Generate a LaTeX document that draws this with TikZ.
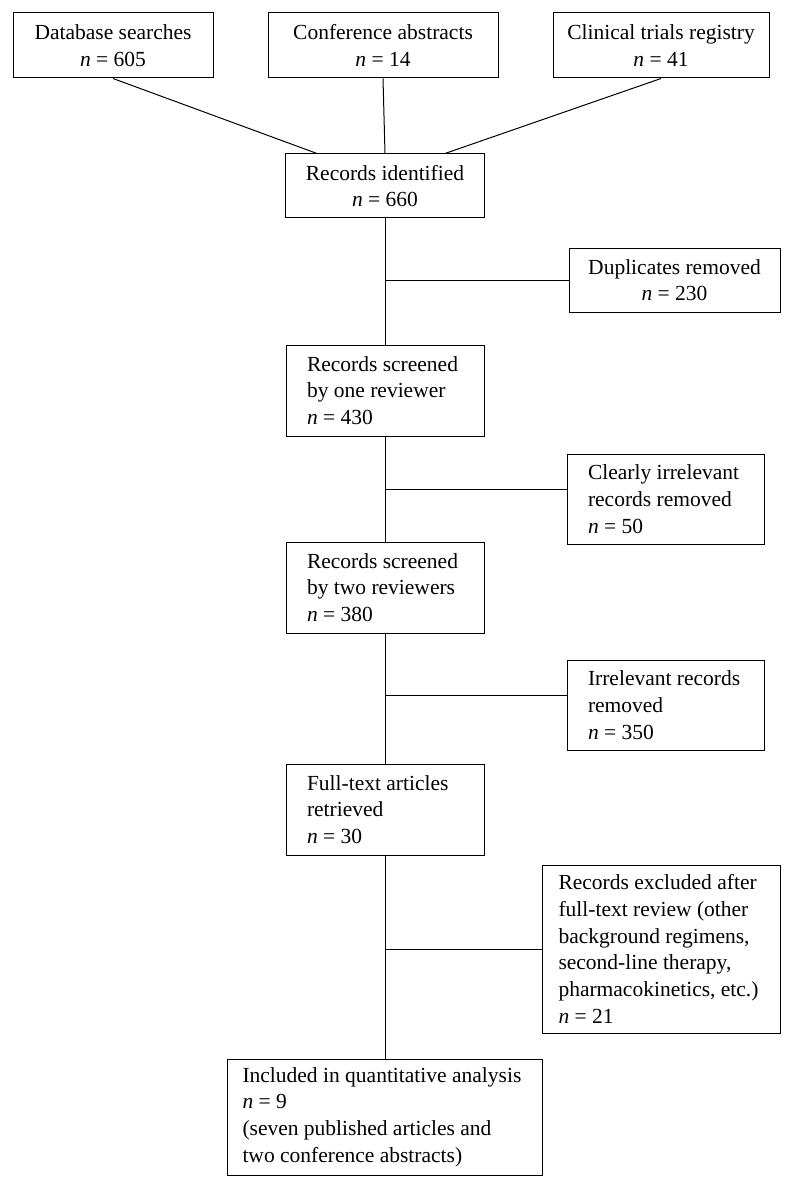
\documentclass[tikz,border=0pt]{standalone}
\usepackage{fontspec}
\setmainfont{Liberation Serif}
\usetikzlibrary{calc}

\begin{document}
\begin{tikzpicture}[x=1pt, y=-1pt, line width=1pt,
  box/.style={draw, inner sep=0pt, font=\fontsize{21.5}{26.7}\selectfont},
  midbox/.style={box, align=center},
  leftbox/.style={box, align=flush left}]
  \useasboundingbox (0,0) rectangle (798,1190);
  \node[midbox, minimum width=200pt, minimum height=65pt] (db) at (113,45.5) {Database searches\\\textit{n} = 605};
  \node[midbox, minimum width=230pt, minimum height=65pt] (conf) at (383,45.5) {Conference abstracts\\\textit{n} = 14};
  \node[midbox, minimum width=216pt, minimum height=65pt] (clin) at (661,45.5) {Clinical trials registry\\\textit{n} = 41};
  \node[midbox, minimum width=199pt, minimum height=64pt] (ident) at (385,186) {Records identified\\\textit{n} = 660};
  \node[midbox, minimum width=211pt, minimum height=64pt] (dup) at (674.5,280) {Duplicates removed\\\textit{n} = 230};
  \node[leftbox, text width=156pt, minimum width=198pt, minimum height=91pt] (scr1) at (385,390.5) {Records screened\\by one reviewer\\\textit{n} = 430};
  \node[leftbox, text width=155pt, minimum width=197pt, minimum height=90pt] (clear) at (665.5,499) {Clearly irrelevant\\records removed\\\textit{n} = 50};
  \node[leftbox, text width=156pt, minimum width=198pt, minimum height=91pt] (scr2) at (385,587.5) {Records screened\\by two reviewers\\\textit{n} = 380};
  \node[leftbox, text width=155pt, minimum width=197pt, minimum height=90pt] (irrel) at (665.5,705) {Irrelevant records\\removed\\\textit{n} = 350};
  \node[leftbox, text width=156pt, minimum width=198pt, minimum height=91pt] (full) at (385,809.5) {Full-text articles\\retrieved\\\textit{n} = 30};
  \node[leftbox, text width=205pt, minimum width=238pt, minimum height=168pt] (excl) at (661,949) {Records excluded after\\full-text review (other\\background regimens,\\second-line therapy,\\pharmacokinetics, etc.)\\\textit{n} = 21};
  \node[leftbox, text width=285pt, minimum width=315pt, minimum height=116pt] (incl) at (385,1117) {Included in quantitative analysis\\\textit{n} = 9\\(seven published articles and\\two conference abstracts)};
  \draw (db.south) -- ($(ident.north west)!0.16!(ident.north east)$);
  \draw (conf.south) -- (ident.north);
  \draw (clin.south) -- ($(ident.north west)!0.8!(ident.north east)$);
  \draw (ident) -- (scr1);
  \draw (scr1) -- (scr2);
  \draw (scr2) -- (full);
  \draw (full) -- (incl);
  \coordinate (j1) at (ident.south |- dup.west);
  \coordinate (j2) at ($(scr1.south |- clear.west)+(0,-10)$);
  \coordinate (j3) at ($(scr2.south |- irrel.west)+(0,-10)$);
  \coordinate (j4) at (full.south |- excl.west);
  \draw (j1) -- (dup.west);
  \draw (j2) -- ($(clear.west)+(0,-10)$);
  \draw (j3) -- ($(irrel.west)+(0,-10)$);
  \draw (j4) -- (excl.west);
\end{tikzpicture}
\end{document}
